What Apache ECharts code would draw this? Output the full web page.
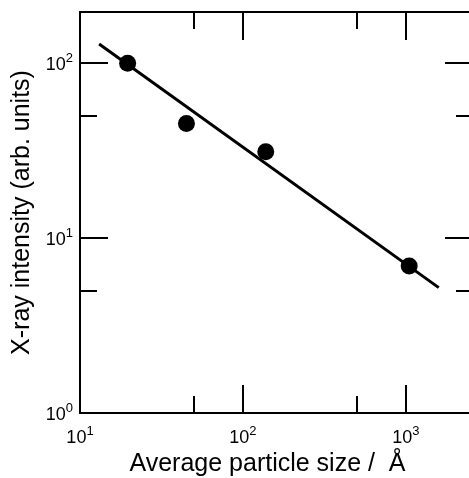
<!DOCTYPE html>
<html>
<head>
<meta charset="utf-8">
<script src="https://cdn.jsdelivr.net/npm/echarts@6/dist/echarts.min.js"></script>
<style>
  html, body { margin: 0; padding: 0; background: #fff; overflow: hidden; }
  #chart { width: 469px; height: 478px; }
</style>
</head>
<body>
<div id="chart"></div>
<script>
// measured points (particle size in Å, intensity in arb. units)
const sizes = [19.6, 45, 138, 1047];
const intensities = [99.5, 45, 31, 6.9];
// fitted straight line, end points
const fitSizes = [13.1, 1590];
const fitIntensities = [128, 5.2];
// axis ranges and tick positions
const xRange = [10, 2580];
const yRange = [1, 195];
const xMajor = [10, 100, 1000];
const xMinor = [50, 500];
const yMajor = [1, 10, 100];
const yMinor = [5, 50];

const font = "'Liberation Sans', Arial, sans-serif";

const powLabel = (v) => "{base|10}{sup|" + Math.round(Math.log10(v)) + "}";
const richPow = {
  base: { fontSize: 18, fontFamily: font, color: "#000", lineHeight: 22, verticalAlign: "bottom" },
  sup: { fontSize: 13, fontFamily: font, color: "#000", lineHeight: 22, verticalAlign: "top" },
};

// one log axis; major and minor ticks are drawn by two stacked axes
const makeAxis = (range, position, ticks, len, extra) =>
  Object.assign(
    {
      type: "log",
      logBase: 10,
      position: position,
      min: range[0],
      max: range[1],
      axisLine: { show: false, onZero: false },
      axisTick: {
        show: true,
        inside: true,
        length: len,
        customValues: ticks,
        lineStyle: { color: "#000", width: 2 },
      },
      axisLabel: { show: false },
      splitLine: { show: false },
      minorTick: { show: false },
    },
    extra || {}
  );

const lineOn = { axisLine: { show: true, onZero: false, lineStyle: { color: "#000", width: 2 } } };

const chart = echarts.init(document.getElementById("chart"));
const option = {
  backgroundColor: "#fff",
  animation: false,
  grid: {
    left: 80,
    top: 12,
    width: 393,
    height: 401,
    containLabel: false,
    outerBoundsMode: "none",
  },
  xAxis: [
    makeAxis(xRange, "bottom", xMajor, 28, {
      axisLine: lineOn.axisLine,
      axisLabel: {
        show: true,
        margin: 12,
        fontSize: 18,
        fontFamily: font,
        color: "#000",
        customValues: xMajor,
        formatter: powLabel,
        rich: richPow,
      },
      name: "Average particle size /  Å",
      nameLocation: "middle",
      nameGap: 38,
      nameTextStyle: { fontSize: 25, fontFamily: font, color: "#000", padding: [0, 18, 0, 0] },
    }),
    makeAxis(xRange, "bottom", xMinor, 17),
    makeAxis(xRange, "top", xMajor, 28, lineOn),
    makeAxis(xRange, "top", xMinor, 17),
  ],
  yAxis: [
    makeAxis(yRange, "left", yMajor, 28, {
      axisLine: lineOn.axisLine,
      axisLabel: {
        show: true,
        margin: 7,
        fontSize: 18,
        fontFamily: font,
        color: "#000",
        customValues: yMajor,
        formatter: powLabel,
        rich: richPow,
      },
      name: "X-ray intensity (arb. units)",
      nameLocation: "middle",
      nameGap: 44,
      nameTextStyle: { fontSize: 25, fontFamily: font, color: "#000" },
    }),
    makeAxis(yRange, "left", yMinor, 17),
    // right frame sits just outside the picture; only its ticks show
    makeAxis(yRange, "right", yMajor, 28),
    makeAxis(yRange, "right", yMinor, 17),
  ],
  series: [
    {
      type: "line",
      xAxisIndex: 0,
      yAxisIndex: 0,
      data: fitSizes.map((x, i) => [x, fitIntensities[i]]),
      showSymbol: false,
      lineStyle: { color: "#000", width: 3 },
      z: 2,
    },
    {
      type: "scatter",
      xAxisIndex: 0,
      yAxisIndex: 0,
      data: sizes.map((x, i) => [x, intensities[i]]),
      symbol: "circle",
      symbolSize: 17,
      itemStyle: { color: "#000", opacity: 1 },
      z: 3,
    },
  ],
};
chart.setOption(option);
</script>
</body>
</html>
